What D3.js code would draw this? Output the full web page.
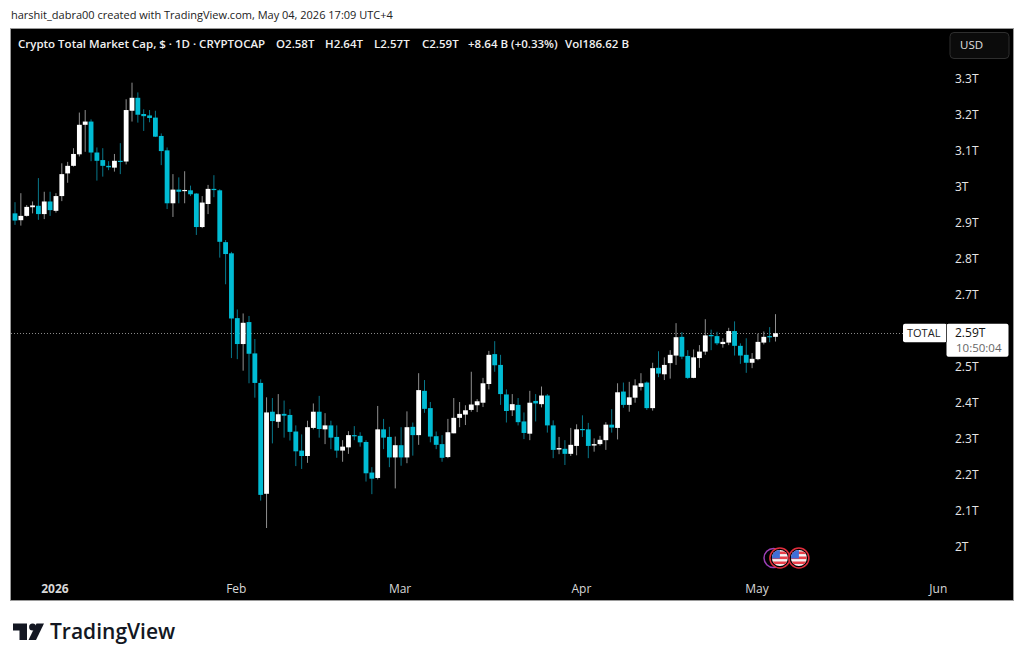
<!DOCTYPE html>
<html>
<head>
<meta charset="utf-8">
<script src="https://cdn.jsdelivr.net/npm/d3@7"></script>
<style>
  html, body { margin: 0; padding: 0; background: #fff; }
  svg { display: block; }
  text { font-family: "Open Sans", "DejaVu Sans", sans-serif; }
</style>
</head>
<body>
<div id="chart"></div>
<script>
// daily candles, Dec 25 2025 -> May 4 2026, values in trillions
const firstDay = new Date(Date.UTC(2025, 11, 25));
const opens = [
  2.924,2.905,2.917,2.941,2.945,2.922,2.957,2.931,2.972,3.035,
  3.056,3.088,3.170,3.179,3.093,3.072,3.056,3.051,3.070,3.068,
  3.209,3.245,3.200,3.196,3.190,3.139,3.099,2.952,2.990,2.987,
  2.988,2.979,2.886,2.950,2.992,2.988,2.844,2.813,2.633,2.561,
  2.622,2.535,2.453,2.145,2.373,2.345,2.367,2.364,2.318,2.265,
  2.250,2.328,2.373,2.324,2.335,2.303,2.265,2.274,2.308,2.306,
  2.289,2.204,2.189,2.324,2.303,2.246,2.280,2.246,2.331,2.308,
  2.431,2.383,2.305,2.283,2.247,2.313,2.356,2.365,2.378,2.391,
  2.398,2.450,2.533,2.503,2.421,2.377,2.392,2.346,2.312,2.403,
  2.394,2.418,2.335,2.268,2.270,2.256,2.278,2.325,2.324,2.279,
  2.283,2.294,2.337,2.328,2.429,2.392,2.412,2.442,2.454,2.383,
  2.495,2.477,2.508,2.529,2.581,2.528,2.467,2.522,2.540,2.586,
  2.583,2.561,2.565,2.597,2.556,2.531,2.509,2.519,2.565,2.583,2.581
];
const highs = [
  2.955,2.980,2.947,2.957,3.022,2.984,2.984,2.980,3.063,3.067,
  3.105,3.204,3.211,3.185,3.107,3.105,3.069,3.089,3.119,3.241,
  3.287,3.260,3.213,3.211,3.209,3.146,3.107,3.033,3.024,3.041,
  3.001,2.980,2.972,3.003,3.030,2.991,2.850,2.817,2.657,2.646,
  2.639,2.575,2.463,2.413,2.411,2.422,2.404,2.380,2.335,2.310,
  2.348,2.396,2.417,2.369,2.348,2.335,2.294,2.319,2.333,2.316,
  2.294,2.219,2.389,2.353,2.331,2.304,2.330,2.374,2.343,2.480,
  2.461,2.400,2.318,2.308,2.353,2.411,2.400,2.391,2.484,2.408,
  2.467,2.542,2.569,2.531,2.435,2.422,2.411,2.371,2.431,2.422,
  2.443,2.422,2.349,2.303,2.294,2.328,2.338,2.363,2.342,2.299,
  2.306,2.344,2.380,2.452,2.454,2.456,2.463,2.480,2.457,2.509,
  2.541,2.524,2.544,2.619,2.594,2.544,2.546,2.558,2.630,2.601,
  2.595,2.577,2.606,2.624,2.563,2.577,2.536,2.590,2.596,2.608,2.644
];
const lows = [
  2.892,2.890,2.915,2.924,2.906,2.908,2.917,2.926,2.958,3.009,
  3.054,3.082,3.095,3.069,3.015,3.026,3.044,3.040,3.033,3.060,
  3.179,3.176,3.153,3.177,3.136,3.058,2.936,2.914,2.952,2.952,
  2.972,2.864,2.883,2.922,2.969,2.801,2.727,2.522,2.519,2.487,
  2.452,2.412,2.126,2.050,2.285,2.328,2.301,2.293,2.222,2.214,
  2.231,2.324,2.301,2.283,2.269,2.245,2.234,2.256,2.294,2.276,
  2.179,2.144,2.185,2.269,2.219,2.160,2.223,2.230,2.251,2.281,
  2.370,2.288,2.269,2.234,2.244,2.313,2.330,2.336,2.373,2.372,
  2.386,2.435,2.484,2.392,2.343,2.361,2.335,2.297,2.294,2.346,
  2.385,2.315,2.244,2.255,2.225,2.250,2.252,2.303,2.244,2.262,
  2.279,2.267,2.315,2.296,2.384,2.373,2.398,2.432,2.378,2.376,
  2.469,2.461,2.465,2.503,2.519,2.464,2.466,2.495,2.531,2.544,
  2.558,2.551,2.558,2.529,2.506,2.481,2.494,2.516,2.560,2.566,2.568
];
const closes = [
  2.904,2.917,2.942,2.946,2.922,2.957,2.933,2.972,3.033,3.056,
  3.089,3.170,3.179,3.093,3.070,3.056,3.052,3.070,3.069,3.211,
  3.245,3.198,3.194,3.189,3.137,3.097,2.952,2.990,2.984,2.989,
  2.977,2.886,2.954,2.992,2.989,2.845,2.811,2.632,2.561,2.620,
  2.534,2.453,2.142,2.371,2.347,2.366,2.362,2.317,2.263,2.250,
  2.330,2.373,2.325,2.335,2.301,2.265,2.276,2.308,2.306,2.288,
  2.202,2.187,2.324,2.301,2.246,2.280,2.246,2.330,2.308,2.433,
  2.381,2.304,2.281,2.245,2.316,2.356,2.367,2.377,2.393,2.402,
  2.452,2.531,2.502,2.422,2.375,2.394,2.344,2.314,2.398,2.396,
  2.418,2.335,2.267,2.272,2.256,2.281,2.324,2.322,2.278,2.283,
  2.295,2.337,2.329,2.427,2.392,2.413,2.446,2.452,2.383,2.494,
  2.479,2.503,2.531,2.580,2.526,2.467,2.524,2.540,2.585,2.583,
  2.563,2.567,2.597,2.556,2.529,2.509,2.520,2.567,2.581,2.581,2.591
];
const priceTicks = [3.3, 3.2, 3.1, 3, 2.9, 2.8, 2.7, 2.5, 2.4, 2.3, 2.2, 2.1, 2];
const dateTicks = [[2026, 0, "2026"], [2026, 1, "Feb"], [2026, 2, "Mar"], [2026, 3, "Apr"], [2026, 4, "May"], [2026, 5, "Jun"]];
const eventDays = [[2026, 4, 4, 18], [2026, 4, 8, 0]];
const lastPrice = 2.591;

const width = 1024, height = 663;
const up = "#ffffff", down = "#00bcd4";
const upWick = "#8f8f8f", downWick = "#08778a";

const svg = d3.select("#chart").append("svg")
  .attr("width", width)
  .attr("height", height)
  .attr("style", "background: white");

svg.append("text")
  .attr("x", 11).attr("y", 19)
  .attr("font-size", 11).attr("fill", "#222")
  .text("harshit_dabra00 created with TradingView.com, May 04, 2026 17:09 UTC+4");

svg.append("rect")
  .attr("x", 10.5).attr("y", 28.5)
  .attr("width", 1003).attr("height", 572)
  .attr("fill", "#000").attr("stroke", "#9a9a9a");

svg.append("clipPath").attr("id", "pane").append("rect")
  .attr("x", 11).attr("y", 29).attr("width", 1002).attr("height", 571);

const days = opens.map((_, i) => d3.utcDay.offset(firstDay, i));
const x = d3.scaleUtc().domain([firstDay, days[days.length - 1]]).range([15, 775.5]);
const y = d3.scaleLinear().domain([2, 3.3]).range([546, 78]);

// price line
svg.append("line")
  .attr("x1", 11).attr("x2", 903)
  .attr("y1", Math.floor(y(lastPrice)) + 0.5).attr("y2", Math.floor(y(lastPrice)) + 0.5)
  .attr("stroke", "#8a8a8a").attr("stroke-dasharray", "1 2");

const candles = svg.append("g").attr("clip-path", "url(#pane)")
  .selectAll("g").data(days).join("g");

candles.append("line")
  .attr("x1", (d) => x(d)).attr("x2", (d) => x(d))
  .attr("y1", (_, i) => y(highs[i])).attr("y2", (_, i) => y(lows[i]))
  .attr("stroke", (_, i) => (closes[i] >= opens[i] ? upWick : downWick))
  .attr("stroke-width", 1);

candles.append("rect")
  .attr("x", (d) => x(d) - 2.4)
  .attr("width", 4.8)
  .attr("y", (_, i) => y(Math.max(opens[i], closes[i])))
  .attr("height", (_, i) => Math.max(1.2, Math.abs(y(opens[i]) - y(closes[i]))))
  .attr("fill", (_, i) => (closes[i] >= opens[i] ? up : down));

// axes
const yAxis = svg.append("g")
  .attr("transform", "translate(955,0.7)")
  .call(d3.axisRight(y).tickValues(priceTicks).tickSize(0).tickPadding(0)
    .tickFormat((d) => d + "T"));
yAxis.select(".domain").remove();
yAxis.selectAll("text")
  .attr("font-size", 12).attr("font-weight", 500)
  .attr("fill", "#e6e6e6").attr("font-family", "Open Sans");

const xAxis = svg.append("g")
  .attr("transform", "translate(-1.5,584)")
  .call(d3.axisBottom(x)
    .tickValues(dateTicks.map((t) => new Date(Date.UTC(t[0], t[1], 1))))
    .tickSize(0).tickPadding(0)
    .tickFormat((_, i) => dateTicks[i][2]));
xAxis.select(".domain").remove();
xAxis.selectAll("text")
  .attr("font-size", 12).attr("font-weight", (_, i) => (i === 0 ? 700 : 400))
  .attr("fill", "#d8d8d8").attr("font-family", "Open Sans");

// legend line
const legend = [
  [18, "Crypto Total Market Cap, $ · 1D · CRYPTOCAP"],
  [276, "O2.58T"], [325, "H2.64T"], [374, "L2.57T"], [422, "C2.59T"],
  [468, "+8.64 B (+0.33%)"], [565, "Vol186.62 B"]
];
svg.selectAll("text.legend").data(legend).join("text")
  .attr("class", "legend")
  .attr("x", (d) => d[0]).attr("y", 47.5)
  .attr("font-size", 11.5).attr("font-weight", 600).attr("fill", "#f0f0f0")
  .text((d) => d[1]);

// currency button
svg.append("rect")
  .attr("x", 950).attr("y", 32.5).attr("width", 59).attr("height", 26).attr("rx", 4)
  .attr("fill", "#0b0b0b").attr("stroke", "#2e2e2e");
svg.append("text")
  .attr("x", 960).attr("y", 49)
  .attr("font-size", 11.5).attr("font-weight", 500).attr("fill", "#e0e0e0")
  .text("USD");

// last price tag
const tagY = y(lastPrice);
svg.append("rect")
  .attr("x", 903).attr("y", tagY - 9.5).attr("width", 44).attr("height", 18.5).attr("rx", 2)
  .attr("fill", "#fff");
svg.append("rect")
  .attr("x", 946.5).attr("y", tagY - 9.5).attr("width", 62).attr("height", 33).attr("rx", 2)
  .attr("fill", "#fff");
svg.append("line")
  .attr("x1", 946.5).attr("x2", 946.5).attr("y1", tagY - 9.5).attr("y2", tagY + 9)
  .attr("stroke", "#444");
svg.append("text")
  .attr("x", 907).attr("y", tagY + 4)
  .attr("font-size", 11).attr("font-weight", 500).attr("fill", "#222").text("TOTAL");
svg.append("text")
  .attr("x", 955).attr("y", tagY + 4)
  .attr("font-size", 12).attr("font-weight", 500).attr("fill", "#111").text("2.59T");
svg.append("text")
  .attr("x", 956).attr("y", tagY + 19)
  .attr("font-size", 11.5).attr("fill", "#666").text("10:50:04");

// event markers
const eventY = 558, eventR = 8;
const eventXs = eventDays.map((d) => x(new Date(Date.UTC(d[0], d[1], d[2], d[3]))));
svg.append("circle")
  .attr("cx", x(days[days.length - 1]) - 2).attr("cy", eventY).attr("r", 9.5)
  .attr("fill", "#000").attr("stroke", "#9c3fb5").attr("stroke-width", 1.5);
svg.append("clipPath").attr("id", "flag").append("circle").attr("r", eventR);
const flags = svg.selectAll("g.flag").data(eventXs).join("g")
  .attr("class", "flag")
  .attr("transform", (d) => `translate(${d},${eventY})`);
flags.append("circle").attr("r", 10).attr("fill", "#000").attr("stroke", "#e02d3c").attr("stroke-width", 1.5);
const flagBody = flags.append("g").attr("clip-path", "url(#flag)");
flagBody.append("rect").attr("x", -8).attr("y", -8).attr("width", 16).attr("height", 16).attr("fill", "#f5f5f5");
[-6.5, -1.5, 3.5].forEach((s) => {
  flagBody.append("rect").attr("x", -8).attr("y", s).attr("width", 16).attr("height", 2.6).attr("fill", "#e8404a");
});
flagBody.append("rect").attr("x", -8).attr("y", -8).attr("width", 8).attr("height", 8.5).attr("fill", "#3f6fd8");

// logo
const logo = svg.append("g").attr("fill", "#131722");
logo.append("path").attr("d", "M13 623.5H27V640H19.5V630.5H13Z");
logo.append("circle").attr("cx", 32.6).attr("cy", 627).attr("r", 3.5);
logo.append("path").attr("d", "M36.5 623.5H44L36 640H28.5Z");
svg.append("text")
  .attr("x", 50).attr("y", 639)
  .attr("font-size", 21).attr("font-weight", 600)
  .attr("fill", "#131722")
  .attr("font-family", "Inter")
  .text("TradingView");
</script>
</body>
</html>
